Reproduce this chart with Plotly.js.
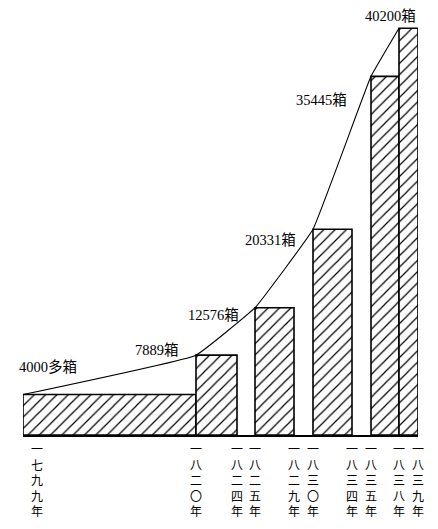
<!DOCTYPE html>
<html>
<head>
<meta charset="utf-8">
<script src="https://cdn.plot.ly/plotly-3.0.1.min.js"></script>
<style>html,body{margin:0;padding:0;background:#fff;}#chart{width:438px;height:529px;}</style>
</head>
<body>
<div id="chart"></div>
<script>
// ---- data ----
const startYears = [1799, 1820, 1825, 1830, 1835, 1838];
const endYears   = [1820, 1824, 1829, 1834, 1838, 1839];
const chests     = [4000, 7889, 12576, 20331, 35445, 40200];
const valueLabels = ['4000多箱', '7889箱', '12576箱', '20331箱', '35445箱', '40200箱'];
const tickYears  = [1799, 1820, 1824, 1825, 1829, 1830, 1834, 1835, 1838, 1839];
const tickLabels = ['一七九九年', '一八二〇年', '一八二四年', '一八二五年', '一八二九年',
                    '一八三〇年', '一八三四年', '一八三五年', '一八三八年', '一八三九年'];

// ---- schematic (non-linear) year scale used by the drawing ----
const yearScale = {1799: 0, 1820: 173, 1824: 214, 1825: 232, 1829: 271,
                   1830: 290, 1834: 329, 1835: 348, 1838: 376, 1839: 395};
const pos = y => yearScale[y];
const firstTickOffset = 14;

const barX = startYears.map((s, i) => (pos(s) + pos(endYears[i])) / 2);
const barW = startYears.map((s, i) => pos(endYears[i]) - pos(s));

const bars = {
  type: 'bar', x: barX, y: chests, width: barW,
  marker: {
    color: '#fff',
    line: {color: '#000', width: 1.6},
    pattern: {shape: '/', fgcolor: '#000', bgcolor: '#fff', size: 8, solidity: 0.15}
  },
  hoverinfo: 'skip', showlegend: false
};

const line = {
  type: 'scatter', mode: 'lines',
  x: startYears.map(pos), y: chests,
  line: {color: '#000', width: 1.1, shape: 'spline', smoothing: 0.25},
  hoverinfo: 'skip', showlegend: false
};

// label placement (styling offsets)
const labelAnchor = ['left', 'right', 'right', 'right', 'right', 'right'];
const labelXAt = ['start', 'start', 'start', 'start', 'start', 'end'];
const labelShift = [[-6, 28], [-15, 5], [-14, -7], [-15, -11], [-22, -24], [0, 12]];

const annotations = chests.map((v, i) => ({
  x: labelXAt[i] === 'start' ? pos(startYears[i]) : pos(endYears[i]),
  y: v, xref: 'x', yref: 'y',
  text: valueLabels[i], showarrow: false,
  xanchor: labelAnchor[i], yanchor: 'middle',
  xshift: labelShift[i][0], yshift: labelShift[i][1],
  font: {family: '"Liberation Serif", "Noto Sans CJK SC", serif', size: 14.5, color: '#000'}
}));

const tickvals = tickYears.map((y, i) => pos(y) + (i === 0 ? firstTickOffset : 0));
const ticktext = tickLabels.map(t => Array.from(t).join('<br>'));

const layout = {
  width: 438, height: 529,
  margin: {l: 23, r: 20, t: 10, b: 94},
  paper_bgcolor: '#fff', plot_bgcolor: '#fff',
  bargap: 0,
  xaxis: {
    range: [0, 395], showgrid: false, zeroline: false,
    showline: true, linecolor: '#000', linewidth: 1.6,
    tickmode: 'array', tickvals: tickvals, ticktext: ticktext,
    ticks: 'outside', ticklen: 3, tickcolor: 'rgba(0,0,0,0)',
    tickfont: {family: '"Noto Sans CJK SC", sans-serif', size: 12, color: '#000'},
    fixedrange: true
  },
  yaxis: {
    range: [0, 42000], visible: false, showgrid: false, zeroline: false, fixedrange: true
  },
  annotations: annotations
};

Plotly.newPlot('chart', [bars, line], layout, {displayModeBar: false, staticPlot: true});
</script>
</body>
</html>
